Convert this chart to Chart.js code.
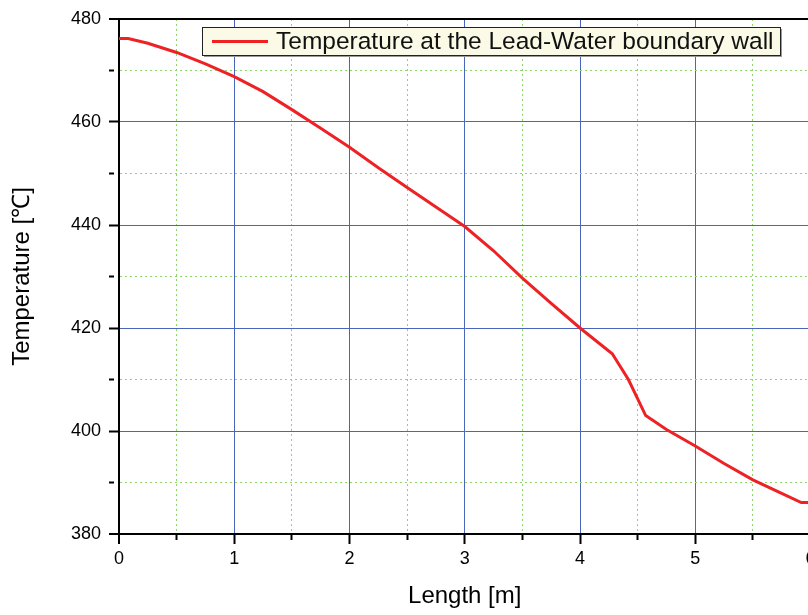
<!DOCTYPE html>
<html>
<head>
<meta charset="utf-8">
<script src="https://cdn.jsdelivr.net/npm/chart.js@4/dist/chart.umd.min.js"></script>
<style>
  html, body { margin: 0; padding: 0; background: #fff; overflow: hidden; }
  #wrap { width: 830px; height: 615px; }
</style>
</head>
<body>
<div id="wrap"><canvas id="tempChart" width="830" height="615"></canvas></div>
<script>
// --- DATA ---
const seriesLabel = 'Temperature at the Lead-Water boundary wall';
const lengthM = [0, 0.08, 0.25, 0.5, 0.75, 1.0, 1.25, 1.5, 1.75, 2.0, 2.25, 2.5, 2.75, 3.0, 3.25, 3.5, 3.75, 4.0, 4.28, 4.42, 4.57, 4.75, 5.0, 5.25, 5.5, 5.75, 5.92, 6.0];
const temperature = [476.2, 476.2, 475.3, 473.5, 471.3, 468.8, 465.9, 462.4, 458.8, 455.1, 451.1, 447.3, 443.5, 439.7, 435.0, 429.7, 424.8, 420.0, 415.0, 410.0, 403.0, 400.3, 397.1, 393.7, 390.5, 387.9, 386.1, 386.1];

// --- STYLE ---
const MAJOR_GRID = '#4a66bb';
const MINOR_GRID = '#8fd468';
const LINE_RED = '#ee2224';
const FONT = 'Liberation Sans, Arial, Helvetica, sans-serif';

const points = lengthM.map((x, i) => ({ x: x, y: temperature[i] }));

function isMajor(v, step) {
    return Math.abs(v / step - Math.round(v / step)) < 1e-6;
}

// boxed legend drawn inside the plot, like the original figure
const boxLegend = {
    id: 'boxLegend',
    afterDatasetsDraw(chart) {
        const ctx = chart.ctx;
        const ds = chart.data.datasets[0];
        const x = 202, y = 27, w = 578, h = 28;
        ctx.save();
        ctx.fillStyle = '#9a9a9a';
        ctx.fillRect(x + 2, y + 2, w, h);
        ctx.fillStyle = '#fafae6';
        ctx.fillRect(x, y, w, h);
        ctx.strokeStyle = '#222';
        ctx.lineWidth = 1;
        ctx.strokeRect(x + 0.5, y + 0.5, w, h);
        ctx.strokeStyle = ds.borderColor;
        ctx.lineWidth = 3;
        ctx.beginPath();
        ctx.moveTo(x + 10, y + 14.5);
        ctx.lineTo(x + 66, y + 14.5);
        ctx.stroke();
        ctx.fillStyle = '#111';
        ctx.font = '24.5px ' + FONT;
        ctx.textBaseline = 'middle';
        ctx.fillText(ds.label, x + 74, y + 15);
        ctx.restore();
    }
};

// top frame line
const topFrame = {
    id: 'topFrame',
    afterDraw(chart) {
        const a = chart.chartArea;
        const ctx = chart.ctx;
        ctx.save();
        ctx.strokeStyle = '#000';
        ctx.lineWidth = 2;
        ctx.beginPath();
        ctx.moveTo(a.left - 1, a.top);
        ctx.lineTo(a.right + 1, a.top);
        ctx.stroke();
        ctx.restore();
    }
};

new Chart(document.getElementById('tempChart'), {
    type: 'line',
    data: {
        datasets: [{
            label: seriesLabel,
            data: points,
            borderColor: LINE_RED,
            backgroundColor: LINE_RED,
            borderWidth: 3,
            pointRadius: 0,
            tension: 0,
            fill: false
        }]
    },
    options: {
        responsive: false,
        animation: false,
        layout: { padding: { top: 19, right: 19.5, left: 0, bottom: 0 } },
        plugins: {
            legend: { display: false },
            tooltip: { enabled: false }
        },
        scales: {
            x: {
                type: 'linear',
                min: 0,
                max: 6,
                afterFit: (scale) => { scale.height = 81; },
                border: {
                    color: '#000',
                    width: 2,
                    dash: (ctx) => ctx.tick && !isMajor(ctx.tick.value, 1) ? [2, 3] : []
                },
                grid: {
                    color: (ctx) => ctx.tick && isMajor(ctx.tick.value, 1) ? MAJOR_GRID : MINOR_GRID,
                    lineWidth: (ctx) => ctx.tick && ctx.tick.value === 0 ? 0 : 1,
                    tickLength: 10,
                    tickColor: '#000',
                    tickWidth: 2,
                    tickBorderDash: (ctx) => ctx.tick && !isMajor(ctx.tick.value, 1) ? [5, 40] : []
                },
                ticks: {
                    stepSize: 0.5,
                    autoSkip: false,
                    maxRotation: 0,
                    padding: 4,
                    color: '#000',
                    font: { family: FONT, size: 18 },
                    callback: (v) => isMajor(v, 1) ? String(v) : ''
                },
                title: {
                    display: true,
                    text: 'Length [m]',
                    color: '#000',
                    font: { family: FONT, size: 24 },
                    padding: { top: 0, bottom: 4 }
                }
            },
            y: {
                type: 'linear',
                min: 380,
                max: 480,
                afterFit: (scale) => { scale.width = 119; },
                border: {
                    color: '#000',
                    width: 2,
                    dash: (ctx) => ctx.tick && !isMajor(ctx.tick.value, 20) ? [2, 3] : []
                },
                grid: {
                    color: (ctx) => ctx.tick && isMajor(ctx.tick.value, 20) ? MAJOR_GRID : MINOR_GRID,
                    lineWidth: (ctx) => ctx.tick && (ctx.tick.value === 380 || ctx.tick.value === 480) ? 0 : 1,
                    tickLength: 10,
                    tickColor: '#000',
                    tickWidth: 2,
                    tickBorderDash: (ctx) => ctx.tick && !isMajor(ctx.tick.value, 20) ? [5, 40] : []
                },
                ticks: {
                    stepSize: 10,
                    autoSkip: false,
                    padding: 8,
                    color: '#000',
                    font: { family: FONT, size: 18 },
                    callback: (v) => isMajor(v, 20) ? String(v) : ''
                },
                title: {
                    display: true,
                    text: 'Temperature [℃]',
                    color: '#000',
                    font: { family: FONT, size: 24 },
                    padding: { top: 8, bottom: 0 }
                }
            }
        }
    },
    plugins: [boxLegend, topFrame]
});
</script>
</body>
</html>
